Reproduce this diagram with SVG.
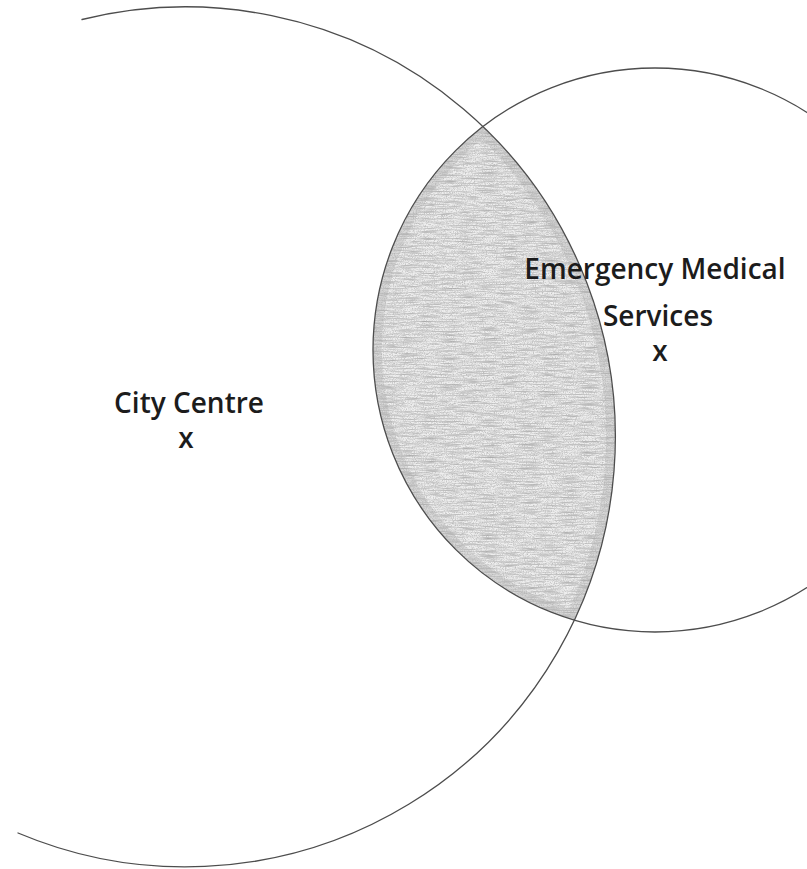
<svg xmlns="http://www.w3.org/2000/svg" width="807" height="869" viewBox="0 0 807 869">
  <style>
    .ring { fill: none; stroke: #4d4d4d; stroke-width: 1.3; stroke-linecap: round; }
    .label { font-family: "Open Sans", "Noto Sans", "Liberation Sans", sans-serif; font-weight: 600; font-size: 28px; fill: #1c1c1c; text-anchor: middle; }
  </style>
  <defs>
    <path id="lensPath" d="M482.7,126.7 A282,282 0 0,0 574.1,620.1 A430,430 0 0,0 482.7,126.7 Z"/>
    <clipPath id="lensClip"><use href="#lensPath"/></clipPath>
    <filter id="grain" x="0" y="0" width="1" height="1" filterUnits="objectBoundingBox">
      <feTurbulence type="fractalNoise" baseFrequency="0.05 0.7" numOctaves="3" seed="7" result="noise"/>
      <feColorMatrix in="noise" type="matrix" values="0 0 0 0 0  0 0 0 0 0  0 0 0 0 0  2.2 0 0 0 -0.9" result="mask"/>
      <feComposite in="SourceGraphic" in2="mask" operator="in"/>
    </filter>
    <filter id="grain2" x="0" y="0" width="1" height="1" filterUnits="objectBoundingBox">
      <feTurbulence type="fractalNoise" baseFrequency="0.9 0.9" numOctaves="2" seed="2" result="noise"/>
      <feColorMatrix in="noise" type="matrix" values="0 0 0 0 0  0 0 0 0 0  0 0 0 0 0  2.4 0 0 0 -1.0" result="mask"/>
      <feComposite in="SourceGraphic" in2="mask" operator="in"/>
    </filter>
  </defs>

  <rect width="807" height="869" fill="#ffffff"/>

  <g id="overlap">
    <use href="#lensPath" fill="#eeeeee"/>
    <use href="#lensPath" fill="#ababab" filter="url(#grain)"/>
    <use href="#lensPath" fill="#bdbdbd" filter="url(#grain2)"/>
    <g clip-path="url(#lensClip)">
      <use href="#lensPath" fill="none" stroke="#a8a8a8" stroke-width="18" stroke-opacity="0.3"/>
    </g>
  </g>

  <g id="city-centre">
    <path class="ring" d="M82,19.5 A430,430 0 1,1 18,833"/>
    <text class="label" x="189" y="413">City Centre</text>
    <text class="label" x="186" y="448">x</text>
  </g>

  <g id="emergency-medical-services">
    <circle class="ring" cx="655" cy="350" r="282"/>
    <text class="label" x="655" y="279">Emergency Medical</text>
    <text class="label" x="658" y="326">Services</text>
    <text class="label" x="660" y="361">x</text>
  </g>
</svg>
